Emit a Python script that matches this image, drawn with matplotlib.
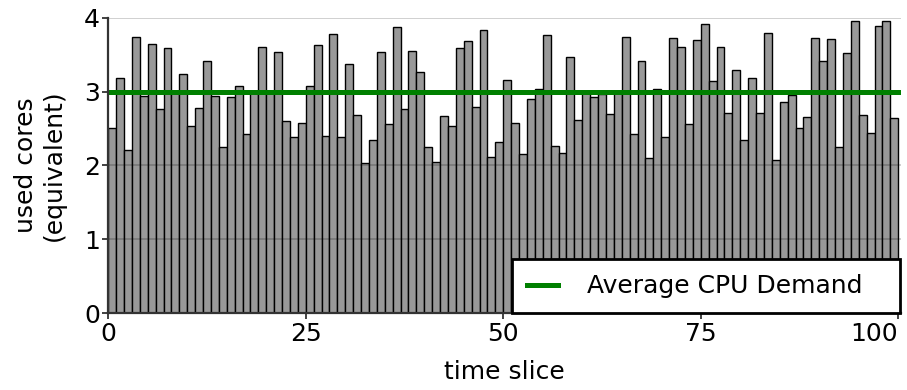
import matplotlib
matplotlib.use("Agg")
import matplotlib.pyplot as plt
import numpy as np

usage = [2.51, 3.18, 2.21, 3.74, 2.94, 3.65, 2.77, 3.59, 2.99, 3.24,
         2.54, 2.78, 3.42, 2.94, 2.25, 2.93, 3.08, 2.42, 2.98, 3.60,
         2.99, 3.54, 2.60, 2.39, 2.58, 3.08, 3.63, 2.40, 3.78, 2.39,
         3.37, 2.68, 2.03, 2.34, 3.53, 2.56, 3.87, 2.76, 3.55, 3.26,
         2.25, 2.05, 2.67, 2.54, 3.59, 3.69, 2.79, 3.83, 2.12, 2.32,
         3.16, 2.57, 2.15, 2.90, 3.03, 3.76, 2.26, 2.17, 3.47, 2.62,
         2.98, 2.93, 2.97, 2.70, 2.99, 3.74, 2.42, 3.41, 2.10, 3.03,
         2.38, 3.72, 3.61, 2.56, 3.70, 3.91, 3.15, 3.60, 2.71, 3.29,
         2.35, 3.18, 2.71, 3.79, 2.07, 2.86, 2.95, 2.51, 2.66, 3.73,
         3.41, 3.71, 2.25, 3.52, 3.95, 2.68, 2.44, 3.89, 3.95, 2.64]
average_demand = 3.0
x_ticks = [0, 25, 50, 75, 100]
y_ticks = [0, 1, 2, 3, 4]

plt.rcParams['font.family'] = ['DejaVu Sans']
fig = plt.figure(figsize=(9.07, 3.9), dpi=100)
ax = fig.add_axes([0.1194, 0.1967, 0.8736, 0.7579])

slices = np.arange(len(usage))
ax.bar(slices, usage, width=1.0, align='edge', color='#999999',
       edgecolor='black', linewidth=1.0, zorder=2)
ax.axhline(average_demand, color='green', linewidth=3.6, zorder=4,
           label='Average CPU Demand')

ax.set_xlim(0, 100.3)
ax.set_ylim(0, 4)
ax.set_xticks(x_ticks)
ax.set_yticks(y_ticks)
ax.yaxis.grid(True, color='black', alpha=0.2, linewidth=1.3, zorder=3)
ax.set_axisbelow(False)

for s in ['top', 'right']:
    ax.spines[s].set_visible(False)
for s in ['left', 'bottom']:
    ax.spines[s].set_color('#333333')
    ax.spines[s].set_linewidth(1.6)
    ax.spines[s].set_zorder(5)
ax.tick_params(axis='both', labelsize=18, color='#333333', length=4,
               width=1.3, pad=2)
xt = ax.get_xticklabels()
xt[-1].set_horizontalalignment('right')
xt[-1].set_x(x_ticks[-1] + 0.1)

ax.set_xlabel('time slice', fontsize=18, labelpad=10)
ax.set_ylabel('used cores\n(equivalent)', fontsize=18, labelpad=13)

ax_w_px = 0.8736 * 907
x0 = (512 - 108.3) / ax_w_px
leg = ax.legend(loc='lower left', bbox_to_anchor=(x0, 0, 1.0 - x0 - 0.001, 0.2),
                mode='expand', fontsize=18, borderaxespad=0,
                fancybox=False, framealpha=1.0, edgecolor='black',
                handlelength=1.24, handletextpad=1.16, borderpad=0.6)
leg.get_frame().set_linewidth(2.0)
leg.set_zorder(6)

fig.savefig('out.png', dpi=100)
